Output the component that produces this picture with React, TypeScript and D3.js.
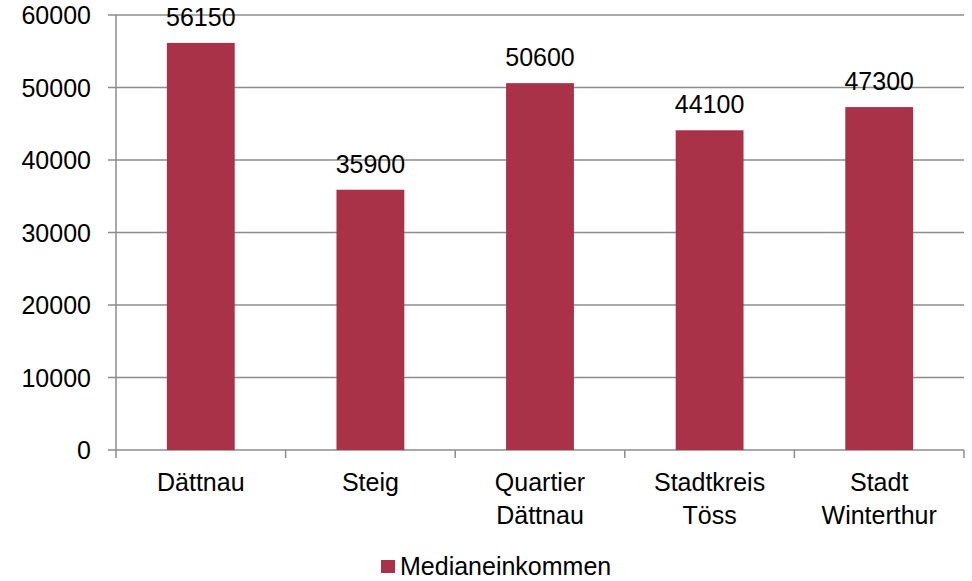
import React, { useEffect, useRef } from 'react'
import * as d3 from 'd3'

/* chart values */
const categories = [['Dättnau'], ['Steig'], ['Quartier', 'Dättnau'], ['Stadtkreis', 'Töss'], ['Stadt', 'Winterthur']]
const values = [56150, 35900, 50600, 44100, 47300]
const yTicks = [0, 10000, 20000, 30000, 40000, 50000, 60000]
const seriesName = 'Medianeinkommen'

const width = 972
const height = 581
const margin = { top: 15, right: 8, bottom: 131, left: 116 }
const barColor = '#A93248'
const gridColor = '#8c8c8c'
const font = '"Liberation Sans", Arial, sans-serif'
const fontSize = 25

export default function App() {
    const xAxisRef = useRef<SVGGElement>(null)

    const keys = categories.map((c) => c.join(' '))
    const x = d3
        .scaleBand()
        .domain(keys)
        .range([margin.left, width - margin.right])
        .paddingInner(0.6)
        .paddingOuter(0.3)
    const band = (width - margin.right - margin.left) / keys.length
    const y = d3
        .scaleLinear()
        .domain([0, 60000])
        .range([height - margin.bottom, margin.top])

    useEffect(() => {
        /* category tick marks sit on band boundaries */
        const g = d3.select(xAxisRef.current)
        g.selectAll('*').remove()
        d3.range(keys.length + 1).forEach((i) => {
            const px = margin.left + i * band
            g.append('line')
                .attr('x1', px)
                .attr('x2', px)
                .attr('y1', 0)
                .attr('y2', 8)
                .attr('stroke', gridColor)
                .attr('stroke-width', 1.5)
        })
    }, [])

    return (
        <svg width={width} height={height} style={{ position: 'absolute', left: 0, top: 0 }}>
            {/* grid + y tick marks */}
            {yTicks.map((t) => (
                <g key={t}>
                    <line
                        x1={margin.left - 8}
                        x2={width - margin.right}
                        y1={y(t)}
                        y2={y(t)}
                        stroke={gridColor}
                        strokeWidth={1.5}
                    />
                    <text
                        x={margin.left - 25}
                        y={y(t) + 9}
                        textAnchor="end"
                        fontSize={fontSize}
                        fontFamily={font}
                    >
                        {t}
                    </text>
                </g>
            ))}
            {/* y axis line */}
            <line
                x1={margin.left}
                x2={margin.left}
                y1={margin.top}
                y2={y(0)}
                stroke={gridColor}
                strokeWidth={1.5}
            />
            {/* bars */}
            {values.map((v, i) => (
                <rect
                    key={i}
                    x={x(keys[i])}
                    y={y(v)}
                    width={x.bandwidth()}
                    height={y(0) - y(v)}
                    fill={barColor}
                />
            ))}
            {/* bar labels */}
            {values.map((v, i) => (
                <text
                    key={i}
                    x={(x(keys[i]) as number) + x.bandwidth() / 2}
                    y={y(v) - 17}
                    textAnchor="middle"
                    fontSize={fontSize}
                    fontFamily={font}
                >
                    {v}
                </text>
            ))}
            <g ref={xAxisRef} transform={`translate(0, ${y(0)})`} />
            {/* category labels */}
            {categories.map((c, i) => (
                <text
                    key={i}
                    x={(x(keys[i]) as number) + x.bandwidth() / 2}
                    y={y(0) + 41}
                    textAnchor="middle"
                    fontSize={fontSize}
                    fontFamily={font}
                >
                    {c.map((line, j) => (
                        <tspan key={j} x={(x(keys[i]) as number) + x.bandwidth() / 2} dy={j === 0 ? 0 : 33}>
                            {line}
                        </tspan>
                    ))}
                </text>
            ))}
            {/* legend */}
            <rect x={381} y={560} width={14} height={13} fill={barColor} />
            <text x={400} y={575} fontSize={fontSize} fontFamily={font}>
                {seriesName}
            </text>
        </svg>
    )
}
